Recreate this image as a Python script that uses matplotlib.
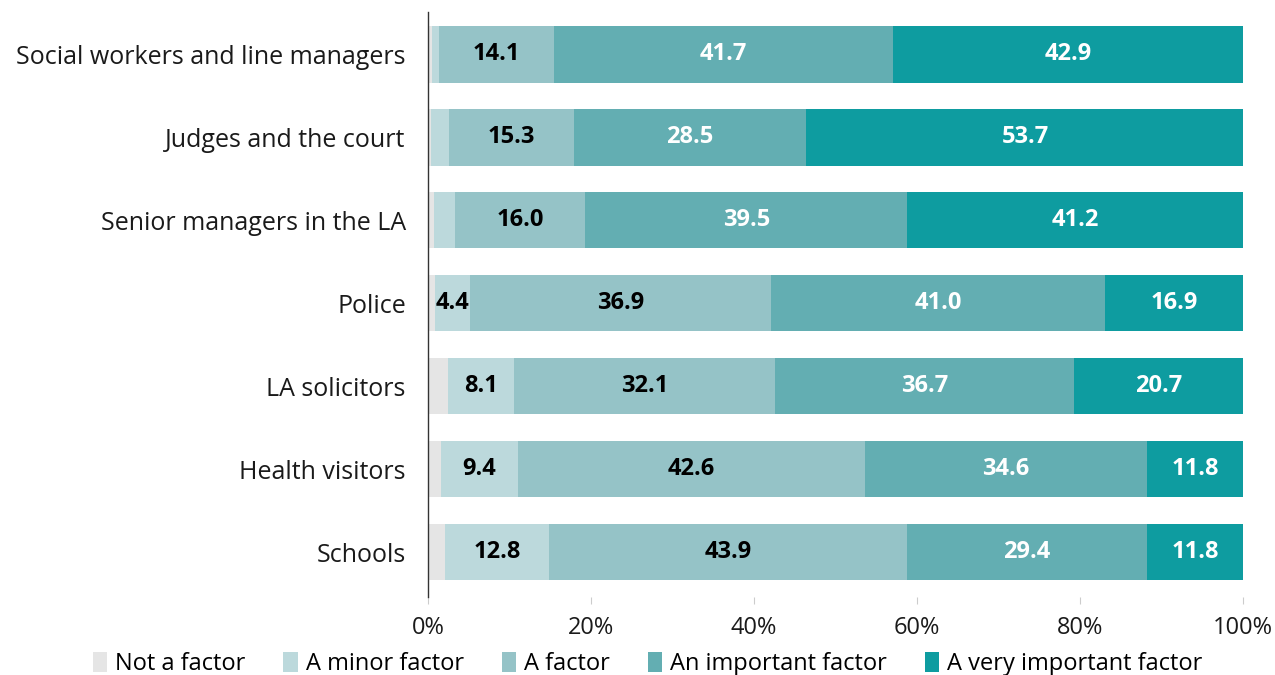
import matplotlib
matplotlib.use("Agg")
import matplotlib.pyplot as plt
import numpy as np

categories = ["Social workers and line managers", "Judges and the court",
              "Senior managers in the LA", "Police", "LA solicitors",
              "Health visitors", "Schools"]
series_names = ["Not a factor", "A minor factor", "A factor",
                "An important factor", "A very important factor"]
not_a_factor = [0.5, 0.4, 0.7, 0.8, 2.4, 1.6, 2.1]
minor_factor = [0.8, 2.2, 2.6, 4.4, 8.1, 9.4, 12.8]
a_factor = [14.1, 15.3, 16.0, 36.9, 32.1, 42.6, 43.9]
important_factor = [41.7, 28.5, 39.5, 41.0, 36.7, 34.6, 29.4]
very_important = [42.9, 53.7, 41.2, 16.9, 20.7, 11.8, 11.8]
labelled = [False, True, True, True, True]
colors = ["#E5E5E5", "#BCD9DC", "#95C3C7", "#63AEB2", "#0E9CA0"]
text_colors = ["black", "black", "black", "white", "white"]
xticks = [0, 20, 40, 60, 80, 100]
xtick_labels = ["0%", "20%", "40%", "60%", "80%", "100%"]

plt.rcParams['font.family'] = ['Open Sans', 'DejaVu Sans']

fig = plt.figure(figsize=(12.75, 6.75), dpi=100)
ax = fig.add_axes([428/1275, 1-597/675, (1243-428)/1275, (597-12)/675])

data = [not_a_factor, minor_factor, a_factor, important_factor, very_important]
y = np.arange(len(categories))
left = np.zeros(len(categories))
for vals, name, col, tc, lab in zip(data, series_names, colors, text_colors, labelled):
    vals = np.array(vals)
    ax.barh(y, vals, left=left, height=0.68, color=col, label=name)
    if lab:
        for yi, l, v in zip(y, left, vals):
            if v > 3:
                ax.text(l + v/2, yi, f"{v:.1f}", ha="center", va="center",
                        color=tc, fontsize=17, fontweight="bold")
    left += vals

ax.set_xlim(0, 100)
ax.set_ylim(6.54, -0.51)
ax.set_yticks(y)
ax.set_yticklabels(categories, fontsize=18, color="#1a1a1a")
ax.set_xticks(xticks)
ax.set_xticklabels(xtick_labels, fontsize=17, color="#1a1a1a")
ax.tick_params(axis="y", length=0, pad=16)
ax.tick_params(axis="x", length=5, width=0.8, color="#cccccc", pad=9)
for s in ["top", "right", "bottom"]:
    ax.spines[s].set_visible(False)
ax.spines["left"].set_color("#333333")
ax.spines["left"].set_linewidth(1.0)

leg = fig.legend(loc="center", bbox_to_anchor=(0.508, 1-664/675), ncol=5,
                 frameon=False, fontsize=17, handlelength=0.6, handleheight=0.9,
                 handletextpad=0.35, columnspacing=1.6)

fig.savefig("out.png", dpi=100)
